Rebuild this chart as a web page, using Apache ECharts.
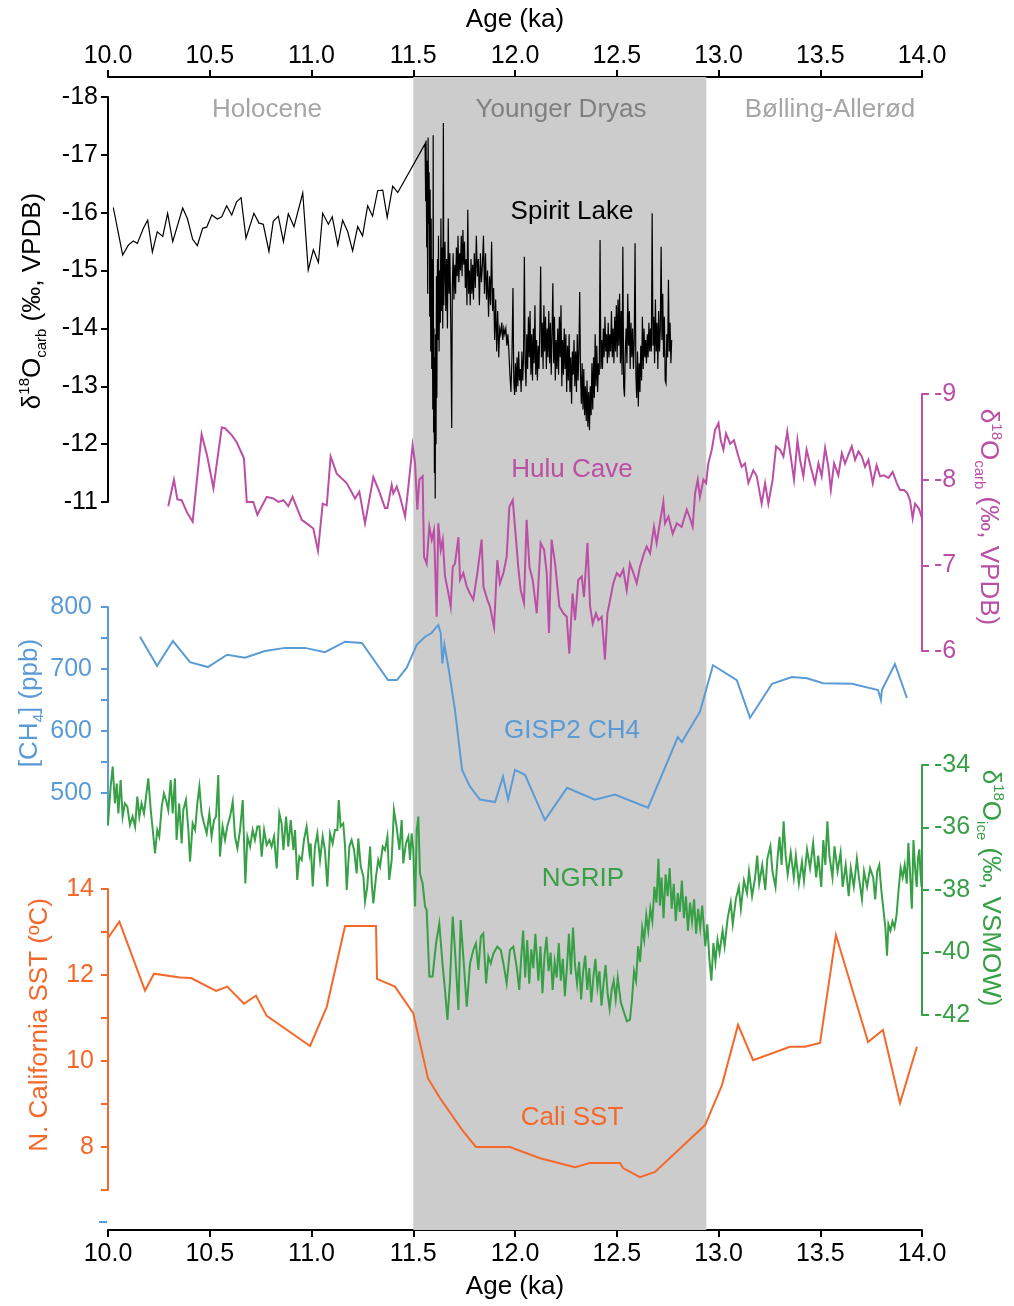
<!DOCTYPE html>
<html>
<head>
<meta charset="utf-8">
<script src="https://cdn.jsdelivr.net/npm/echarts@6/dist/echarts.min.js"></script>
<style>
html,body{margin:0;padding:0;background:#fff;}
#chart{width:1014px;height:1306px;}
</style>
</head>
<body>
<div id="chart"></div>
<script>
// ---- Records: [age (ka), value] ----
const spiritLake = [
[10.026,-16.09],[10.072,-15.27],[10.100,-15.44],[10.124,-15.51],[10.144,-15.47],[10.174,-15.73],[10.195,-15.87],[10.218,-15.32],[10.242,-15.67],[10.269,-15.59],[10.293,-15.99],[10.318,-15.50],[10.367,-16.08],[10.390,-15.90],[10.416,-15.54],[10.439,-15.43],[10.465,-15.73],[10.485,-15.75],[10.510,-15.96],[10.537,-15.89],[10.559,-15.93],[10.583,-16.12],[10.608,-15.96],[10.632,-16.19],[10.654,-16.26],[10.678,-15.56],[10.717,-15.99],[10.742,-15.82],[10.763,-15.80],[10.791,-15.33],[10.812,-15.85],[10.837,-15.94],[10.862,-15.50],[10.886,-15.98],[10.914,-15.76],[10.957,-16.34],[10.984,-15.01],[11.009,-15.36],[11.034,-15.14],[11.055,-15.99],[11.083,-15.80],[11.102,-15.93],[11.129,-15.44],[11.153,-15.87],[11.178,-15.67],[11.202,-15.34],[11.227,-15.76],[11.251,-15.60],[11.276,-16.12],[11.300,-15.94],[11.325,-16.38],[11.350,-16.39],[11.372,-15.92],[11.399,-16.46],[11.424,-16.35],[11.558,-17.19],
[11.561,-16.2],[11.563,-17.25],[11.566,-15.4],[11.568,-16.9],[11.571,-14.6],[11.573,-17.3],[11.576,-15.8],[11.578,-16.7],[11.581,-14.2],[11.583,-16.4],[11.586,-13.6],[11.588,-15.9],[11.591,-13.3],[11.593,-15.2],[11.596,-12.6],[11.598,-17.34],[11.600,-12.2],[11.602,-14.0],[11.604,-11.5],[11.606,-13.5],[11.608,-11.06],[11.610,-13.9],[11.612,-12.0],[11.614,-14.9],[11.616,-12.8],[11.619,-15.2],[11.621,-13.8],[11.624,-15.6],[11.627,-13.6],[11.630,-15.0],[11.633,-14.1],[11.636,-15.9],[11.639,-14.3],[11.642,-15.4],[11.645,-14.0],[11.648,-17.55],[11.650,-14.4],
[11.652,-14.9],[11.656,-15.5],[11.660,-14.3],[11.664,-15.2],[11.668,-14.0],[11.672,-15.9],[11.676,-14.6],[11.680,-15.3],[11.684,-14.2],[11.689,-12.28],[11.692,-14.7],[11.696,-15.3],[11.700,-14.5],[11.704,-15.1],[11.708,-14.6],[11.712,-15.4],[11.716,-14.9],[11.720,-15.6],[11.724,-14.8],[11.728,-15.3],[11.732,-15.0],[11.736,-15.6],[11.740,-14.9],[11.744,-15.7],[11.748,-15.1],[11.752,-15.5],[11.756,-14.7],[11.760,-15.2],[11.764,-14.4],[11.768,-16.05],[11.772,-14.6],[11.776,-15.0],[11.780,-14.4],[11.784,-15.2],[11.788,-14.6],
[11.792,-15.1],[11.796,-14.5],[11.800,-15.3],[11.805,-14.7],[11.810,-15.6],[11.815,-14.9],[11.820,-15.2],[11.825,-14.4],[11.830,-15.3],[11.835,-14.8],[11.840,-15.1],[11.845,-15.6],[11.850,-14.6],[11.855,-15.3],[11.860,-14.5],[11.865,-15.0],[11.870,-14.2],[11.875,-14.9],[11.880,-14.4],[11.885,-15.5],[11.890,-14.3],
[11.895,-14.7],[11.900,-13.8],[11.905,-14.5],[11.910,-13.6],[11.915,-14.3],[11.920,-13.5],[11.925,-14.0],
[11.930,-13.9],[11.935,-14.1],[11.940,-13.8],[11.945,-14.0],[11.950,-13.9],[11.955,-14.0],[11.960,-13.7],[11.965,-13.9],[11.970,-13.6],
[11.975,-13.2],[11.980,-12.9],[11.985,-13.5],[11.990,-14.7],[11.994,-13.1],[11.998,-12.85],[12.002,-13.4],[12.006,-12.9],[12.010,-13.5],[12.014,-13.0],[12.018,-13.6],[12.022,-13.1],[12.026,-13.3],[12.030,-12.9],[12.034,-13.6],[12.038,-13.1],[12.042,-13.5],[12.046,-15.24],[12.050,-13.4],
[12.054,-13.0],[12.058,-13.9],[12.062,-13.3],[12.066,-14.2],[12.070,-13.5],[12.074,-14.3],[12.078,-13.2],[12.082,-13.9],[12.086,-13.1],[12.090,-14.0],[12.094,-13.4],[12.098,-14.4],[12.102,-13.2],[12.106,-13.8],[12.110,-13.1],[12.114,-13.7],[12.118,-13.3],[12.122,-14.0],[12.126,-15.07],[12.130,-13.5],
[12.134,-14.1],[12.138,-13.3],[12.142,-14.4],[12.146,-13.6],[12.150,-14.2],[12.154,-13.3],[12.158,-14.0],[12.162,-13.5],[12.166,-14.3],[12.170,-13.4],[12.174,-14.1],[12.178,-13.2],[12.182,-13.9],[12.186,-14.78],[12.190,-13.4],[12.194,-14.2],[12.198,-13.1],[12.202,-13.8],[12.206,-13.3],[12.210,-14.0],[12.214,-13.2],[12.218,-14.2],[12.222,-13.5],[12.226,-14.4],[12.230,-13.0],[12.234,-13.8],[12.238,-13.2],[12.242,-14.0],[12.246,-13.3],[12.250,-13.9],[12.254,-12.9],[12.258,-13.7],[12.262,-13.1],[12.266,-13.9],[12.270,-12.9],[12.274,-13.5],[12.278,-12.7],[12.282,-13.6],
[12.286,-13.2],[12.290,-13.8],[12.294,-13.0],[12.298,-13.6],[12.302,-12.9],[12.306,-13.9],[12.310,-13.1],[12.314,-13.6],[12.318,-14.63],[12.322,-13.2],[12.326,-12.7],[12.330,-13.4],[12.334,-12.6],[12.338,-13.3],[12.342,-12.5],[12.346,-13.0],[12.350,-12.4],[12.354,-13.1],[12.358,-12.3],[12.362,-12.9],[12.366,-12.24],[12.370,-13.0],[12.374,-12.5],[12.378,-13.4],
[12.382,-12.6],[12.386,-13.5],[12.390,-12.8],[12.394,-13.9],[12.398,-13.0],[12.402,-13.7],[12.406,-12.9],[12.410,-13.4],[12.414,-13.2],[12.418,-15.53],[12.422,-13.3],
[12.426,-13.8],[12.430,-13.3],[12.434,-14.0],[12.438,-13.5],[12.442,-14.2],[12.446,-13.6],[12.450,-13.9],[12.454,-13.4],[12.458,-14.1],[12.462,-13.5],[12.466,-13.9],[12.470,-13.6],[12.474,-14.3],[12.478,-13.5],[12.482,-14.0],[12.486,-13.4],[12.490,-14.2],[12.494,-13.6],[12.498,-14.4],
[12.502,-13.5],[12.506,-14.5],[12.510,-13.7],[12.514,-14.6],[12.518,-13.4],[12.522,-14.3],[12.526,-13.2],[12.530,-15.41],[12.534,-13.0],[12.538,-12.82],[12.542,-13.6],[12.546,-14.0],[12.550,-13.4],[12.554,-14.6],[12.558,-13.7],[12.562,-14.3],[12.566,-13.3],[12.570,-14.1],[12.574,-13.5],[12.578,-14.0],[12.582,-13.3],[12.586,-13.8],[12.590,-15.47],[12.594,-13.2],
[12.598,-12.8],[12.602,-13.6],[12.606,-12.65],[12.610,-13.4],[12.614,-12.9],[12.618,-13.7],[12.622,-13.1],[12.626,-14.2],[12.630,-13.3],[12.634,-14.0],[12.638,-13.5],[12.642,-13.8],[12.646,-13.4],
[12.650,-13.9],[12.654,-13.5],[12.658,-14.1],[12.662,-13.6],[12.666,-14.0],[12.670,-13.6],[12.674,-15.99],[12.678,-13.7],
[12.682,-14.2],[12.686,-13.4],[12.690,-14.5],[12.694,-13.6],[12.698,-14.1],[12.702,-13.3],[12.706,-14.3],[12.710,-13.6],[12.714,-14.0],[12.718,-15.41],[12.722,-13.8],[12.726,-14.6],[12.730,-13.5],[12.734,-14.2],[12.738,-13.1],[12.742,-13.05],[12.746,-13.9],[12.750,-13.5],[12.754,-14.84],[12.758,-13.6],[12.762,-14.1],[12.766,-13.4],[12.770,-13.8]
];

const huluCave = [
[10.296,-7.69],[10.324,-8.00],[10.341,-7.77],[10.362,-7.76],[10.390,-7.61],[10.416,-7.51],[10.460,-8.53],[10.488,-8.27],[10.518,-7.90],[10.559,-8.61],[10.575,-8.60],[10.608,-8.52],[10.632,-8.44],[10.668,-8.25],[10.682,-7.74],[10.714,-7.74],[10.734,-7.59],[10.780,-7.80],[10.812,-7.78],[10.837,-7.74],[10.862,-7.76],[10.886,-7.69],[10.907,-7.80],[10.952,-7.53],[10.976,-7.49],[11.009,-7.43],[11.032,-7.17],[11.055,-7.72],[11.075,-7.70],[11.094,-8.27],[11.124,-8.07],[11.173,-7.96],[11.214,-7.78],[11.235,-7.86],[11.263,-7.49],[11.304,-8.03],[11.333,-7.86],[11.361,-7.67],[11.373,-7.67],[11.394,-7.94],[11.402,-7.84],[11.419,-7.92],
[11.435,-7.80],[11.460,-7.57],[11.476,-7.92],[11.497,-8.40],[11.509,-8.19],[11.520,-7.65],[11.530,-8.00],[11.546,-8.04],[11.553,-7.10],[11.566,-7.02],[11.579,-7.45],[11.591,-7.30],[11.602,-7.41],[11.615,-6.40],[11.623,-7.49],[11.635,-7.18],[11.645,-7.30],[11.656,-6.87],[11.673,-6.67],[11.684,-6.52],[11.694,-6.98],[11.705,-7.02],[11.722,-7.33],[11.730,-6.83],[11.746,-6.91],[11.763,-6.75],[11.779,-6.67],[11.795,-6.60],[11.815,-6.91],[11.836,-7.30],[11.845,-6.75],[11.864,-6.60],[11.877,-6.52],[11.897,-6.28],[11.913,-7.06],[11.926,-6.79],[11.943,-6.91],[11.959,-7.10],[11.972,-7.68],[11.989,-7.76],[12.005,-7.30],[12.016,-6.98],[12.028,-6.71],[12.044,-6.56],[12.057,-7.53],[12.071,-6.98],[12.087,-6.83],[12.107,-6.44],[12.126,-7.26],[12.143,-7.18],[12.156,-6.91],[12.167,-6.21],[12.180,-7.30],[12.197,-7.02],[12.218,-6.52],[12.238,-6.44],[12.254,-6.40],[12.267,-5.97],[12.283,-6.67],[12.295,-6.36],[12.311,-6.83],[12.328,-6.87],[12.339,-6.63],[12.356,-7.26],[12.369,-6.52],[12.382,-6.32],[12.398,-6.44],[12.410,-6.36],[12.426,-6.40],[12.442,-5.90],[12.454,-6.44],[12.470,-6.63],[12.483,-6.79],[12.500,-6.91],[12.516,-6.87],[12.532,-6.95],[12.549,-6.71],[12.565,-7.02],[12.582,-6.91],[12.598,-6.79],[12.614,-6.98],[12.634,-7.14],[12.647,-7.22],[12.664,-7.14],[12.683,-7.45],[12.696,-7.26],[12.709,-7.45],[12.729,-7.74],[12.737,-7.49],[12.754,-7.57],[12.775,-7.37],[12.795,-7.49],[12.819,-7.45],[12.844,-7.65],[12.857,-7.57],[12.873,-7.45],[12.885,-7.84],[12.898,-8.00],[12.909,-7.80],[12.926,-8.00],[12.939,-7.96],[12.950,-8.19],[12.967,-8.35],[12.983,-8.58],[13.000,-8.66],[13.011,-8.46],[13.024,-8.35],[13.037,-8.54],[13.057,-8.42],[13.076,-8.46],[13.098,-8.27],[13.114,-8.15],[13.130,-8.19],[13.147,-7.96],[13.171,-8.11],[13.188,-8.04],[13.212,-7.72],[13.229,-7.96],[13.245,-7.72],[13.266,-8.00],[13.283,-8.39],[13.302,-8.35],[13.319,-8.27],[13.338,-8.56],[13.355,-8.27],[13.371,-8.00],[13.388,-8.46],[13.401,-8.23],[13.417,-8.04],[13.433,-8.35],[13.453,-8.15],[13.474,-7.96],[13.491,-8.19],[13.507,-8.04],[13.524,-8.37],[13.540,-8.15],[13.552,-7.88],[13.568,-8.19],[13.589,-8.05],[13.606,-8.31],[13.622,-8.19],[13.638,-8.29],[13.655,-8.39],[13.671,-8.23],[13.688,-8.33],[13.704,-8.27],[13.720,-8.15],[13.737,-8.23],[13.758,-7.96],[13.777,-8.17],[13.794,-8.04],[13.813,-8.05],[13.835,-8.02],[13.856,-8.09],[13.876,-7.96],[13.892,-7.88],[13.912,-7.88],[13.928,-7.84],[13.941,-7.76],[13.954,-7.55],[13.966,-7.72],[13.985,-7.66],[14.000,-7.55]
];

const gisp2CH4 = [
[10.157,752],[10.241,705],[10.319,745],[10.403,711],[10.491,703],[10.585,723],[10.673,718],[10.771,729],[10.870,734],[10.968,734],[11.066,727],[11.165,744],[11.248,742],[11.376,682],[11.420,682],[11.468,702],[11.517,739],[11.558,752],[11.590,758],[11.623,771],[11.635,758],[11.643,709],[11.653,739],[11.672,704],[11.705,634],[11.740,537],[11.779,510],[11.828,489],[11.902,485],[11.941,526],[11.966,489],[12.000,537],[12.049,529],[12.147,456],[12.256,508],[12.393,489],[12.491,497],[12.654,476],[12.800,590],[12.820,582],[12.909,631],[12.973,706],[13.090,682],[13.155,621],[13.263,676],[13.361,687],[13.435,685],[13.514,677],[13.656,676],[13.784,666],[13.798,650],[13.803,666],[13.867,708],[13.926,653]
];

const ngrip = [
[10.000,-35.9],[10.013,-34.69],[10.023,-34.05],[10.034,-35.23],[10.043,-34.59],[10.051,-35.55],[10.062,-34.48],[10.072,-35.65],[10.083,-35.23],[10.095,-35.33],[10.108,-35.92],[10.121,-35.65],[10.133,-35.97],[10.144,-35.01],[10.154,-35.65],[10.165,-35.23],[10.177,-35.55],[10.187,-35.01],[10.198,-34.43],[10.210,-35.44],[10.220,-36.08],[10.231,-36.83],[10.242,-36.08],[10.252,-36.29],[10.264,-35.33],[10.275,-34.91],[10.285,-35.12],[10.296,-35.44],[10.308,-34.48],[10.318,-35.55],[10.329,-34.43],[10.337,-36.40],[10.350,-35.23],[10.362,-36.51],[10.370,-35.44],[10.383,-35.12],[10.395,-36.08],[10.403,-37.09],[10.416,-35.87],[10.428,-36.08],[10.439,-35.23],[10.449,-34.69],[10.460,-35.55],[10.472,-35.87],[10.485,-36.19],[10.498,-35.55],[10.509,-36.29],[10.521,-35.76],[10.531,-35.65],[10.542,-34.32],[10.550,-36.93],[10.563,-35.97],[10.575,-36.40],[10.586,-35.97],[10.600,-35.65],[10.613,-35.17],[10.624,-36.29],[10.636,-36.67],[10.649,-36.08],[10.662,-35.12],[10.675,-37.79],[10.685,-36.29],[10.698,-36.61],[10.711,-36.08],[10.722,-36.40],[10.734,-35.97],[10.744,-35.97],[10.755,-36.93],[10.767,-36.08],[10.780,-36.56],[10.793,-36.40],[10.804,-36.61],[10.816,-36.29],[10.829,-37.31],[10.842,-35.55],[10.853,-35.87],[10.862,-36.72],[10.875,-35.65],[10.886,-36.61],[10.898,-35.76],[10.911,-36.72],[10.919,-36.08],[10.930,-37.68],[10.940,-36.93],[10.952,-37.04],[10.963,-36.40],[10.976,-35.97],[10.990,-36.83],[10.996,-36.51],[11.006,-37.89],[11.017,-36.61],[11.029,-36.19],[11.042,-37.04],[11.055,-36.29],[11.066,-36.72],[11.078,-37.89],[11.091,-36.19],[11.104,-36.51],[11.115,-36.08],[11.127,-36.08],[11.134,-35.12],[11.143,-35.97],[11.156,-35.87],[11.165,-36.61],[11.173,-38.00],[11.186,-36.61],[11.197,-36.40],[11.209,-36.72],[11.222,-37.47],[11.230,-36.35],[11.242,-37.25],[11.255,-37.57],[11.263,-38.37],[11.274,-37.89],[11.288,-36.61],[11.296,-37.79],[11.304,-38.43],[11.317,-37.57],[11.328,-37.04],[11.337,-37.25],[11.350,-36.61],[11.361,-36.72],[11.373,-36.29],[11.382,-37.68],[11.394,-37.04],[11.405,-35.44],[11.418,-35.97],[11.432,-36.72],[11.443,-35.76],[11.451,-37.15],[11.464,-36.51],[11.476,-36.29],[11.484,-37.04],[11.492,-36.19],[11.500,-36.72],[11.509,-38.53],[11.517,-36.08],[11.525,-35.65],[11.533,-37.47],[11.546,-37.79],[11.558,-38.53],[11.566,-38.64],[11.579,-40.77],[11.595,-40.77],[11.612,-39.71],[11.628,-39.07],[11.645,-40.45],[11.656,-41.20],[11.668,-42.16],[11.680,-40.99],[11.694,-38.85],[11.705,-39.92],[11.722,-41.84],[11.733,-38.96],[11.746,-40.13],[11.763,-41.73],[11.779,-40.35],[11.795,-39.92],[11.808,-39.71],[11.820,-40.56],[11.832,-39.49],[11.844,-39.39],[11.858,-40.99],[11.869,-40.13],[11.881,-40.35],[11.894,-40.03],[11.913,-39.81],[11.930,-39.92],[11.943,-40.35],[11.959,-40.99],[11.975,-39.92],[11.992,-39.81],[12.008,-40.45],[12.021,-41.20],
[12.030,-40.2],[12.040,-39.3],[12.050,-40.8],[12.060,-39.6],[12.070,-41.0],[12.080,-39.9],[12.090,-40.5],[12.100,-39.4],[12.115,-40.9],[12.125,-39.8],[12.135,-41.3],[12.145,-40.1],[12.155,-39.5],[12.165,-40.6],[12.175,-40.0],[12.185,-41.2],[12.195,-40.3],[12.205,-40.8],[12.215,-39.7],[12.225,-40.9],[12.235,-40.2],[12.245,-41.4],[12.255,-40.5],[12.265,-39.4],[12.275,-40.7],[12.285,-39.2],[12.295,-40.4],[12.305,-41.0],[12.315,-40.3],[12.325,-41.5],[12.335,-40.6],[12.345,-40.1],[12.355,-41.2],[12.365,-40.5],[12.375,-41.6],[12.385,-40.8],[12.395,-40.2],[12.405,-41.1],[12.415,-40.6],[12.425,-41.7],[12.435,-41.0],[12.445,-40.4],[12.455,-41.3],[12.465,-41.8],[12.475,-41.2],[12.485,-40.9],[12.495,-41.5],[12.505,-40.8],[12.520,-41.6],[12.535,-41.9],[12.550,-42.2],[12.565,-42.15],[12.575,-41.5],[12.585,-40.6],[12.595,-40.9],[12.605,-39.8],[12.615,-40.3],[12.625,-39.2],[12.635,-39.6],[12.645,-38.8],[12.655,-39.3],[12.665,-38.6],[12.675,-39.0],[12.685,-37.9],[12.695,-38.4],[12.705,-37.0],[12.712,-38.5],[12.720,-37.6],[12.730,-38.9],[12.740,-37.5],[12.750,-38.2],[12.760,-37.3],[12.770,-38.6],[12.780,-37.8],[12.790,-39.0],[12.800,-38.1],[12.810,-38.7],[12.820,-37.7],[12.830,-38.9],[12.840,-38.2],[12.850,-39.3],[12.860,-38.4],[12.870,-39.0],[12.880,-38.3],[12.890,-39.4],[12.900,-38.6],[12.910,-39.2],[12.920,-38.5],[12.935,-39.8],[12.945,-39.1],[12.955,-40.2],[12.965,-40.9],[12.975,-39.7],[12.985,-40.3],[12.995,-39.6],[13.005,-40.0],[13.020,-39.3],[13.030,-39.8],[13.045,-38.9],[13.060,-38.4],[13.070,-39.1],[13.085,-38.3],[13.100,-37.9],[13.110,-38.6],[13.125,-37.7],[13.140,-38.1],[13.150,-37.4],[13.165,-38.2],[13.180,-37.6],[13.190,-36.9],[13.200,-37.8],[13.215,-37.2],[13.230,-38.0],[13.240,-37.0],[13.255,-36.6],[13.265,-37.4],[13.280,-37.9],[13.290,-37.0],[13.300,-36.3],[13.310,-37.2],[13.320,-35.8],[13.330,-36.9],[13.340,-37.5],[13.355,-36.8],[13.370,-37.6],[13.380,-36.9],[13.395,-37.8],[13.410,-37.1],[13.420,-37.7],[13.435,-36.7],[13.450,-37.3],[13.465,-36.5],[13.480,-37.6],[13.490,-36.9],[13.505,-37.9],[13.515,-36.4],[13.525,-37.2],[13.535,-35.8],[13.545,-36.9],[13.560,-37.6],[13.570,-36.6],[13.585,-37.4],[13.600,-36.8],[13.610,-37.9],[13.625,-37.2],[13.640,-38.2],[13.650,-37.3],[13.665,-37.9],[13.680,-37.0],[13.690,-37.6],[13.705,-38.3],[13.715,-37.4],[13.730,-37.9],[13.745,-37.3],[13.760,-37.6],[13.770,-38.3],[13.780,-37.4],[13.790,-37.2],[13.800,-38.0],[13.810,-38.6],[13.820,-39.2],[13.828,-40.1],[13.835,-39.1],[13.845,-39.3],[13.855,-39.0],[13.865,-39.2],[13.875,-38.8],[13.885,-38.0],[13.895,-37.3],[13.905,-37.6],[13.915,-37.2],[13.925,-37.8],[13.933,-36.5],[13.940,-37.3],[13.950,-38.6],[13.958,-36.4],[13.966,-37.3],[13.974,-37.9],[13.980,-37.0],[13.987,-36.7],[13.993,-37.5],[13.998,-37.9]
];

const caliSST = [
[10.000,12.86],[10.056,13.24],[10.182,11.64],[10.226,12.03],[10.354,11.94],[10.408,11.93],[10.531,11.63],[10.586,11.73],[10.668,11.33],[10.727,11.52],[10.780,11.05],[10.993,10.35],[11.075,11.26],[11.165,13.14],[11.317,13.14],[11.322,11.91],[11.410,11.73],[11.500,11.11],[11.572,9.60],[11.631,9.14],[11.740,8.40],[11.808,8.00],[11.975,8.00],[12.123,7.74],[12.295,7.53],[12.369,7.63],[12.516,7.63],[12.531,7.51],[12.614,7.30],[12.688,7.42],[12.934,8.51],[13.017,9.44],[13.096,10.84],[13.170,10.02],[13.351,10.33],[13.425,10.33],[13.499,10.42],[13.577,12.93],[13.735,10.44],[13.808,10.72],[13.892,9.02],[13.975,10.33]
];

// Younger Dryas interval (ka)
const youngerDryas = [11.5, 12.94];

// Tick and label values
const ch4Ticks = [500, 550, 600, 650, 700, 750, 800];
const ch4Labels = [500, 600, 700, 800];
const sstLabels = [8, 10, 12, 14];

// ---- Styling ----
const FF = 'Arial, "Liberation Sans", Helvetica, sans-serif';
const C_BLACK = '#000000';
const C_HULU = '#bb4fa5';
const C_CH4 = '#5b9bd5';
const C_NGRIP = '#37a046';
const C_SST = '#f4692b';
const TICK_FS = 25;
const TEXT_FS = 26;

const L = 108, R = 92;
const grids = [
  {left: L, right: R, top: 77, bottom: 76},     // frame with age axes
  {left: L, right: R, top: 97, height: 405},    // Spirit Lake
  {left: L, right: R, top: 394, height: 257},   // Hulu Cave
  {left: L, right: R, top: 607, height: 218},   // GISP2 CH4
  {left: L, right: R, top: 765, height: 250},   // NGRIP
  {left: L, right: R, top: 889, height: 301}    // Cali SST
];

function ageAxis(pos, margin) {
  return {
    gridIndex: 0, type: 'value', position: pos, min: 10, max: 14, interval: 0.5,
    name: 'Age (ka)', nameLocation: 'middle', nameGap: 44,
    nameTextStyle: {fontSize: TEXT_FS, fontFamily: FF, color: C_BLACK},
    axisLine: {show: true, onZero: false, lineStyle: {color: C_BLACK, width: 2}},
    axisTick: {show: true, length: 7, lineStyle: {color: C_BLACK, width: 2}},
    axisLabel: {fontSize: TICK_FS, fontFamily: FF, color: C_BLACK, margin: margin,
      formatter: v => v.toFixed(1)},
    splitLine: {show: false}
  };
}

const xAxes = [ageAxis('top', 8), ageAxis('bottom', 12)];
for (let g = 1; g <= 5; g++) {
  xAxes.push({gridIndex: g, type: 'value', min: 10, max: 14, show: false});
}

function valAxis(g, pos, min, max, color, extra) {
  const ax = {
    gridIndex: g, type: 'value', position: pos, min: min, max: max,
    axisLine: {show: true, onZero: false, lineStyle: {color: color, width: 2}},
    axisTick: {show: true, length: 7, lineStyle: {color: color, width: 2}},
    axisLabel: {fontSize: TICK_FS, fontFamily: FF, color: color, margin: 10},
    splitLine: {show: false}
  };
  return Object.assign(ax, extra || {});
}

const yAxes = [
  {gridIndex: 0, type: 'value', min: 0, max: 1, show: false},
  valAxis(1, 'left', -18, -11, C_BLACK, {inverse: true, interval: 1}),
  valAxis(2, 'right', -9, -6, C_HULU, {inverse: true, interval: 1}),
  valAxis(3, 'left', 448, 800, C_CH4, {}),
  valAxis(4, 'right', -42, -34, C_NGRIP, {interval: 2}),
  valAxis(5, 'left', 7, 14, C_SST, {interval: 1})
];
yAxes[1].axisLabel.margin = 10;
yAxes[2].axisLabel.margin = 12;
yAxes[3].axisTick.customValues = ch4Ticks;
yAxes[3].axisLabel.customValues = ch4Labels;
yAxes[3].axisLabel.margin = 16;
yAxes[4].axisLabel.margin = 12;
yAxes[5].axisLabel.customValues = sstLabels;
yAxes[5].axisLabel.margin = 14;

function lineSeries(g, data, color, width, z) {
  return {
    type: 'line', xAxisIndex: g + 1, yAxisIndex: g, data: data,
    symbol: 'none', showSymbol: false, clip: false, z: z,
    lineStyle: {color: color, width: width, join: 'miter'},
    emphasis: {disabled: true}
  };
}

const series = [
  {
    type: 'line', xAxisIndex: 0, yAxisIndex: 0, data: [[10, 0.5]],
    symbol: 'none', lineStyle: {width: 0, opacity: 0}, z: 0,
    markArea: {
      silent: true, itemStyle: {color: '#cccccc'},
      data: [[{xAxis: youngerDryas[0]}, {xAxis: youngerDryas[1]}]]
    }
  },
  lineSeries(1, spiritLake, C_BLACK, 1.2, 5),
  lineSeries(2, huluCave, C_HULU, 2, 4),
  lineSeries(3, gisp2CH4, C_CH4, 2, 3),
  lineSeries(4, ngrip, C_NGRIP, 2, 4),
  lineSeries(5, caliSST, C_SST, 2, 4)
];

function txt(x, y, text, color, size) {
  return {type: 'text', x: x, y: y, z: 10,
    style: {text: text, fill: color, fontSize: size || TEXT_FS, fontFamily: FF,
      align: 'center', verticalAlign: 'middle'}};
}

// Rotated axis titles with super/subscripts
function richTitle(x, y, rot, text, color) {
  return {type: 'text', x: x, y: y, rotation: rot, z: 10,
    style: {
      text: text, fill: color, align: 'center', verticalAlign: 'middle',
      rich: {
        a: {fontSize: TEXT_FS, fontFamily: FF, fill: color, lineHeight: 32},
        s: {fontSize: 15, fontFamily: FF, fill: color, lineHeight: 16, verticalAlign: 'top'},
        b: {fontSize: 15, fontFamily: FF, fill: color, lineHeight: 14, verticalAlign: 'bottom'}
      }
    }};
}

const graphics = [
  txt(267, 110, 'Holocene', '#a6a6a6'),
  txt(561, 110, 'Younger Dryas', '#808080'),
  txt(830, 110, 'Bølling-Allerød', '#a6a6a6'),
  txt(572, 212, 'Spirit Lake', C_BLACK),
  txt(572, 470, 'Hulu Cave', C_HULU),
  txt(572, 731, 'GISP2 CH4', C_CH4),
  txt(583, 879, 'NGRIP', C_NGRIP),
  txt(572, 1118, 'Cali SST', C_SST),
  richTitle(33, 301, Math.PI / 2, '{a|δ}{s|18}{a|O}{b|carb}{a| (‰, VPDB)}', C_BLACK),
  richTitle(988, 517, -Math.PI / 2, '{a|δ}{s|18}{a|O}{b|carb}{a| (‰, VPDB)}', C_HULU),
  richTitle(30, 703, Math.PI / 2, '{a|[CH}{b|4}{a|] (ppb)}', C_CH4),
  richTitle(990, 888, -Math.PI / 2, '{a|δ}{s|18}{a|O}{b|ice}{a| (‰, VSMOW)}', C_NGRIP),
  richTitle(40, 1025, Math.PI / 2, '{a|N. California SST (ºC)}', C_SST),
  {type: 'line', z: 10, shape: {x1: 99, y1: 1222, x2: 107, y2: 1222},
    style: {stroke: C_CH4, lineWidth: 2}}
];

const chart = echarts.init(document.getElementById('chart'), null, {renderer: 'canvas'});
chart.setOption({
  animation: false,
  backgroundColor: '#ffffff',
  grid: grids,
  xAxis: xAxes,
  yAxis: yAxes,
  series: series,
  graphic: graphics
});
</script>
</body>
</html>
